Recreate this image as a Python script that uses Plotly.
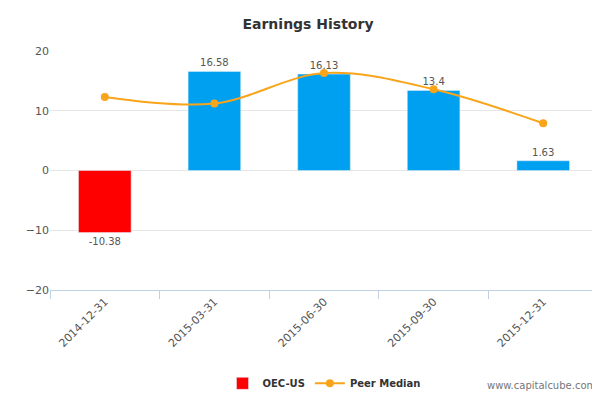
import plotly.graph_objects as go

dates = ["2014-12-31", "2015-03-31", "2015-06-30", "2015-09-30", "2015-12-31"]
earnings = [-10.38, 16.58, 16.13, 13.4, 1.63]
peer_median = [12.3, 11.2, 16.3, 13.6, 7.9]
bar_colors = ["#ff0000" if v < 0 else "#00a0f0" for v in earnings]

fig = go.Figure()
fig.add_trace(go.Bar(x=dates, y=earnings, name="<b>OEC-US</b>", marker_color=bar_colors,
                     width=0.48, text=[f"{v:g}" for v in earnings], textposition="outside",
                     textfont=dict(size=10, color="#555"), cliponaxis=False))
fig.add_trace(go.Scatter(x=dates, y=peer_median, name="<b>Peer Median</b>", mode="lines+markers",
                         line=dict(color="#f8a51c", width=2, shape="spline"),
                         marker=dict(size=8, color="#f8a51c")))
fig.update_layout(
    width=600, height=400, plot_bgcolor="white", paper_bgcolor="white",
    title=dict(text="<b>Earnings History</b>", x=0.5, xanchor="center", y=0.96, yanchor="middle",
               font=dict(size=14, color="#333", family="DejaVu Sans")),
    margin=dict(l=42, r=10, t=43, b=113),
    font=dict(family="DejaVu Sans", size=11, color="#555"),
    xaxis=dict(type="category", tickangle=-45, showline=True, linecolor="#c0d0e0",
               ticks="outside", ticklen=8, tickcolor="#c0d0e0", showgrid=False,
               tickson="boundaries", automargin=False),
    yaxis=dict(range=[-20, 20], dtick=10, showgrid=True, gridcolor="#e6e6e6",
               zeroline=False, tickfont=dict(size=11), automargin=False),
    legend=dict(orientation="h", x=0.5, xanchor="center", y=-0.33, yanchor="top",
                font=dict(size=10, color="#333")),
    bargap=0.5, showlegend=True,
)
fig.add_annotation(text="www.capitalcube.com", xref="paper", yref="paper", x=1.0, y=-0.43,
                   xanchor="right", showarrow=False, font=dict(size=10, color="#777"))
fig.write_html("out.html")
